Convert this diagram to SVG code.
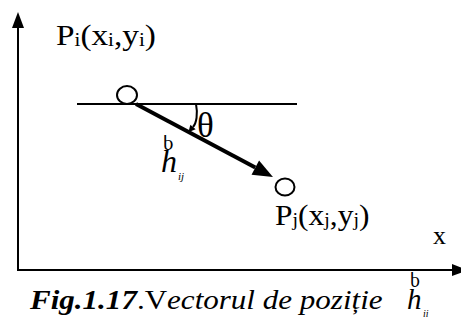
<svg xmlns="http://www.w3.org/2000/svg" width="461" height="320" viewBox="0 0 461 320">
<style>
.ln{stroke:#000;fill:none;stroke-width:2}
.node{fill:#fff;stroke:#000;stroke-width:2}
.t{font-family:"Liberation Serif","Times New Roman",serif;fill:#000}
.it{font-style:italic}
</style>
<defs>
<marker id="axhead" markerUnits="userSpaceOnUse" markerWidth="18" markerHeight="14" refX="0" refY="6" orient="auto" overflow="visible">
<path d="M0,0 L16,6 L0,12 z" fill="#000"/>
</marker>
<marker id="vhead" markerUnits="userSpaceOnUse" markerWidth="22" markerHeight="18" refX="0" refY="8" orient="auto" overflow="visible">
<path d="M0,0 L20,8 L0,16 z" fill="#000"/>
</marker>
<marker id="shead" markerUnits="userSpaceOnUse" markerWidth="9" markerHeight="8" refX="0" refY="3.5" orient="auto" overflow="visible">
<path d="M0,0 L7,3.5 L0,7 z" fill="#000"/>
</marker>
</defs>
<rect width="461" height="320" fill="#fff"/>
<g id="connectors">
<line class="ln" x1="18" y1="270" x2="18" y2="28" marker-end="url(#axhead)"/>
<line class="ln" x1="17" y1="270" x2="452" y2="270" marker-end="url(#axhead)"/>
<line class="ln" x1="77" y1="104" x2="297" y2="104"/>
<line x1="136" y1="104" x2="255.3" y2="167.6" stroke="#000" stroke-width="4" marker-end="url(#vhead)"/>
<path class="ln" d="M196,104 C198,114 196.5,123 193,127" stroke-width="1.6" marker-end="url(#shead)"/>
</g>
<g id="node-pi">
<ellipse class="node" cx="127" cy="95" rx="10" ry="9"/>
<g transform="translate(56,45) scale(1.11,1)">
<text class="t" font-size="30" x="0" y="0">P<tspan font-size="19" dy="1">i</tspan><tspan dy="-1">(x</tspan><tspan font-size="19" dy="1">i</tspan><tspan dy="-1">,y</tspan><tspan font-size="19" dy="1">i</tspan><tspan dy="-1">)</tspan></text>
</g>
</g>
<g id="node-pj">
<ellipse class="node" cx="285" cy="187" rx="9.5" ry="8.5"/>
<g transform="translate(275,225) scale(1.05,1)">
<text class="t" font-size="30" x="0" y="0">P<tspan font-size="19" dy="1">j</tspan><tspan dy="-1">(x</tspan><tspan font-size="19" dy="1">j</tspan><tspan dy="-1">,y</tspan><tspan font-size="19" dy="1">j</tspan><tspan dy="-1">)</tspan></text>
</g>
</g>
<g id="labels">
<text class="t" font-size="35" x="197" y="137">θ</text>
<text class="t" font-size="26" x="433" y="244">x</text>
<text class="t" font-size="21" transform="translate(163,140) scale(1,-1)">ρ</text>
<text class="t it" font-size="32" x="161" y="172">h</text>
<text class="t it" font-size="11" x="178" y="180">ij</text>
</g>
<g id="caption">
<g transform="translate(30,309) scale(1.15,1)">
<text class="t" font-size="27" x="0" y="0"><tspan font-weight="bold" font-style="italic">Fig.1.17</tspan><tspan>.V</tspan><tspan font-style="italic">ectorul de poziție</tspan></text>
</g>
<text class="t" font-size="20" transform="translate(410,277) scale(1,-1)">ρ</text>
<text class="t it" font-size="29" x="407" y="309">h</text>
<text class="t it" font-size="10" x="423" y="317">ii</text>
</g>
</svg>
